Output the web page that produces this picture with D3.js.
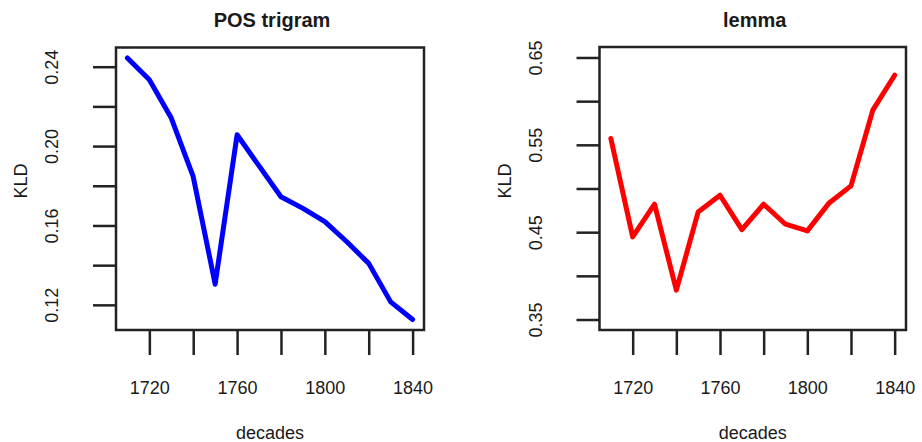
<!DOCTYPE html>
<html>
<head>
<meta charset="utf-8">
<script src="https://cdn.jsdelivr.net/npm/d3@7"></script>
<style>
  html, body { margin: 0; padding: 0; background: #fff; }
  svg { display: block; }
  text { font-family: "Liberation Sans", Arial, Helvetica, sans-serif; fill: #1a1a1a; }
</style>
</head>
<body>
<svg id="chart" width="922" height="442"></svg>
<script>
// ---- data ----
const decades = [1710, 1720, 1730, 1740, 1750, 1760, 1770, 1780, 1790, 1800, 1810, 1820, 1830, 1840];
const posTrigram = [0.2444, 0.2334, 0.2141, 0.1846, 0.1304, 0.2057, 0.1900, 0.1745, 0.1686, 0.1619, 0.1518, 0.1409, 0.1215, 0.1126];
const lemma = [0.5573, 0.4446, 0.4820, 0.3836, 0.4732, 0.4923, 0.4530, 0.4820, 0.4591, 0.4515, 0.4835, 0.5030, 0.5897, 0.6297];
const titles = ["POS trigram", "lemma"];
const xLabel = "decades";
const yLabel = "KLD";
const xTicks = [1720, 1740, 1760, 1780, 1800, 1820, 1840];
const xTickLabels = [1720, 1760, 1800, 1840];
const posYTicks = [0.12, 0.14, 0.16, 0.18, 0.20, 0.22, 0.24];
const posYTickLabels = ["0.12", "0.16", "0.20", "0.24"];
const lemmaYTicks = [0.35, 0.40, 0.45, 0.50, 0.55, 0.60, 0.65];
const lemmaYTickLabels = ["0.35", "0.45", "0.55", "0.65"];
const lemmaYLim = [0.35, 0.65];
const colors = ["#0000ff", "#ff0000"];

// R-style axis extension (4%)
function rExtend(lo, hi) { const d = (hi - lo) * 0.04; return [lo - d, hi + d]; }

const panels = [
  { box: { x0: 116, x1: 424, y0: 47.5, y1: 330 }, values: posTrigram, title: titles[0],
    yDomain: rExtend(d3.min(posTrigram), d3.max(posTrigram)), yTicks: posYTicks, yLabels: posYTickLabels, color: colors[0] },
  { box: { x0: 599.5, x1: 906, y0: 47, y1: 330 }, values: lemma, title: titles[1],
    yDomain: rExtend(lemmaYLim[0], lemmaYLim[1]), yTicks: lemmaYTicks, yLabels: lemmaYTickLabels, color: colors[1] }
];

const svg = d3.select("#chart");
const xDomain = rExtend(d3.min(decades), d3.max(decades));

panels.forEach(p => {
  const b = p.box;
  const x = d3.scaleLinear().domain(xDomain).range([b.x0, b.x1]);
  const y = d3.scaleLinear().domain(p.yDomain).range([b.y1, b.y0]);
  const g = svg.append("g");

  // line
  const line = d3.line().x((d, i) => x(decades[i])).y(d => y(d));
  g.append("path").datum(p.values)
    .attr("d", line)
    .attr("fill", "none")
    .attr("stroke", p.color)
    .attr("stroke-width", 5)
    .attr("stroke-linejoin", "round")
    .attr("stroke-linecap", "round");

  // box
  g.append("rect")
    .attr("x", b.x0).attr("y", b.y0)
    .attr("width", b.x1 - b.x0).attr("height", b.y1 - b.y0)
    .attr("fill", "none").attr("stroke", "#222").attr("stroke-width", 2.5);

  // x axis
  const xAxis = d3.axisBottom(x).tickValues(xTicks).tickSize(25).tickSizeOuter(0)
    .tickFormat(d => xTickLabels.includes(d) ? String(d) : "");
  const gx = g.append("g").attr("transform", `translate(0,${b.y1})`).call(xAxis);
  gx.select(".domain").remove();
  gx.selectAll(".tick line").attr("stroke", "#222").attr("stroke-width", 2.5);
  gx.selectAll(".tick text")
    .attr("y", 64).attr("dy", 0)
    .style("font-size", "18px").style("font-family", "'Liberation Sans', Arial, sans-serif").attr("fill", "#1a1a1a");

  // y axis
  const yAxis = d3.axisLeft(y).tickValues(p.yTicks).tickSize(23).tickSizeOuter(0)
    .tickFormat(d => { const s = d.toFixed(2); return p.yLabels.includes(s) ? s : ""; });
  const gy = g.append("g").attr("transform", `translate(${b.x0},0)`).call(yAxis);
  gy.select(".domain").remove();
  gy.selectAll(".tick line").attr("stroke", "#222").attr("stroke-width", 2.5);
  gy.selectAll(".tick text")
    .attr("x", 0).attr("dy", 0)
    .attr("transform", "translate(-58,0) rotate(-90)")
    .attr("text-anchor", "middle")
    .style("font-size", "18px").style("font-family", "'Liberation Sans', Arial, sans-serif").attr("fill", "#1a1a1a");

  // title
  g.append("text")
    .attr("x", (b.x0 + b.x1) / 2 + 2).attr("y", 27)
    .attr("text-anchor", "middle")
    .style("font-size", "20px").style("font-weight", "bold")
    .text(p.title);

  // x label
  g.append("text")
    .attr("x", (b.x0 + b.x1) / 2).attr("y", 439)
    .attr("text-anchor", "middle")
    .style("font-size", "18px")
    .text(xLabel);

  // y label
  g.append("text")
    .attr("transform", `translate(${b.x0 - 89},181) rotate(-90)`)
    .attr("text-anchor", "middle")
    .style("font-size", "18px")
    .text(yLabel);
});
</script>
</body>
</html>
